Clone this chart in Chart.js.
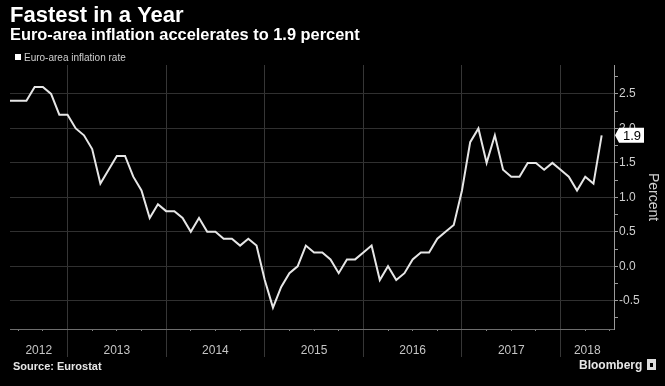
<!DOCTYPE html>
<html>
<head>
<meta charset="utf-8">
<script src="https://cdn.jsdelivr.net/npm/chart.js@4.4.1/dist/chart.umd.min.js"></script>
<style>
  html, body { margin: 0; padding: 0; background: #000; }
</style>
</head>
<body>
<canvas id="chart" width="665" height="386"></canvas>
<script>
// euro-area HICP, y/y %, monthly from May 2012 to May 2018 (flash)
const seriesName = "Euro-area inflation rate";
const inflation = [
  2.4, 2.4, 2.4, 2.6, 2.6, 2.5, 2.2, 2.2,                          // 2012 May-Dec
  2.0, 1.9, 1.7, 1.2, 1.4, 1.6, 1.6, 1.3, 1.1, 0.7, 0.9, 0.8,      // 2013
  0.8, 0.7, 0.5, 0.7, 0.5, 0.5, 0.4, 0.4, 0.3, 0.4, 0.3, -0.2,     // 2014
  -0.6, -0.3, -0.1, 0.0, 0.3, 0.2, 0.2, 0.1, -0.1, 0.1, 0.1, 0.2,  // 2015
  0.3, -0.2, 0.0, -0.2, -0.1, 0.1, 0.2, 0.2, 0.4, 0.5, 0.6, 1.1,   // 2016
  1.8, 2.0, 1.5, 1.9, 1.4, 1.3, 1.3, 1.5, 1.5, 1.4, 1.5, 1.4,      // 2017
  1.3, 1.1, 1.3, 1.2, 1.9                                          // 2018 Jan-May
];

// x axis is month index (0 = May 2012)
const years = ["2012", "2013", "2014", "2015", "2016", "2017", "2018"];
const yearLabelAt = [3.5, 13, 25, 37, 49, 61, 70.25];
const yearBreaks = [7, 19, 31, 43, 55, 67];
const quarterTicks = [1, 4, 10, 13, 16, 22, 25, 28, 34, 37, 40, 46, 49, 52, 58, 61, 64, 70, 73];
const xMax = 73.5;

const yLabels = [-0.5, 0, 0.5, 1, 1.5, 2, 2.5];
const yMinor = [-0.75, -0.25, 0.25, 0.75, 1.25, 1.75, 2.25, 2.75];
const yMin = -0.91, yMax = 2.92;

const FONT = '"Liberation Sans", Arial, sans-serif';
const isBreak = v => yearBreaks.includes(v);
const isMajorY = v => yLabels.some(l => Math.abs(l - v) < 1e-6);

const bgPlugin = {
  id: "bg",
  beforeDraw(chart) {
    const { ctx, width, height } = chart;
    ctx.save();
    ctx.fillStyle = "#000";
    ctx.fillRect(0, 0, width, height);
    ctx.restore();
  }
};

// headline, legend, source and logo text
const textPlugin = {
  id: "texts",
  afterDraw(chart) {
    const ctx = chart.ctx;
    ctx.save();
    ctx.textBaseline = "alphabetic";
    ctx.fillStyle = "#fff";
    ctx.font = "bold 22px " + FONT;
    ctx.fillText("Fastest in a Year", 10, 22);
    ctx.font = "bold 16.4px " + FONT;
    ctx.fillText("Euro-area inflation accelerates to 1.9 percent", 10, 40);

    ctx.fillStyle = "#fff";
    ctx.fillRect(15, 54, 6, 6);
    ctx.fillStyle = "#cfcfcf";
    ctx.font = "10px " + FONT;
    ctx.fillText(chart.data.datasets[0].label, 24, 61);

    ctx.fillStyle = "#e6e6e6";
    ctx.font = "bold 11px " + FONT;
    ctx.fillText("Source: Eurostat", 13, 370);
    ctx.font = "bold 12px " + FONT;
    ctx.fillText("Bloomberg", 579, 369);
    ctx.fillStyle = "#dcdcdc";
    ctx.fillRect(647, 359, 9, 11);
    ctx.fillStyle = "#000";
    ctx.fillRect(650, 363, 3, 4);
    ctx.restore();
  }
};

// white tag with the latest value on the right axis
const lastValuePlugin = {
  id: "lastValue",
  afterDraw(chart) {
    const meta = chart.getDatasetMeta(0);
    const pt = meta.data[meta.data.length - 1];
    const yScale = chart.scales.y;
    const val = inflation[inflation.length - 1];
    const x0 = yScale.left + 1, y = pt.y;
    const ctx = chart.ctx;
    ctx.save();
    ctx.fillStyle = "#fff";
    ctx.beginPath();
    ctx.moveTo(x0, y);
    ctx.lineTo(x0 + 4, y - 7.5);
    ctx.lineTo(x0 + 29, y - 7.5);
    ctx.lineTo(x0 + 29, y + 7.5);
    ctx.lineTo(x0 + 4, y + 7.5);
    ctx.closePath();
    ctx.fill();
    ctx.fillStyle = "#000";
    ctx.font = "13px " + FONT;
    ctx.textAlign = "center";
    ctx.textBaseline = "middle";
    ctx.fillText(val.toFixed(1), x0 + 17, y + 1);
    ctx.restore();
  }
};

new Chart(document.getElementById("chart"), {
  type: "line",
  data: {
    datasets: [{
      label: seriesName,
      data: inflation.map((v, i) => ({ x: i, y: v })),
      borderColor: "#e6e6e6",
      borderWidth: 2,
      pointRadius: 0,
      tension: 0,
      fill: false
    }]
  },
  options: {
    responsive: false,
    animation: false,
    devicePixelRatio: 1,
    layout: { padding: { top: 65, left: 10, right: 0, bottom: 0 } },
    plugins: {
      legend: { display: false },
      title: { display: false },
      tooltip: { enabled: false }
    },
    scales: {
      xq: {
        type: "linear",
        position: "bottom",
        weight: 0,
        min: 0,
        max: xMax,
        afterBuildTicks: s => { s.ticks = quarterTicks.map(v => ({ value: v })); },
        afterFit: s => { s.height = 0; },
        grid: { drawOnChartArea: false, tickLength: 2, tickColor: "#8a8a8a", color: "#8a8a8a" },
        border: { display: false },
        ticks: { display: false }
      },
      x: {
        type: "linear",
        position: "bottom",
        weight: 1,
        min: 0,
        max: xMax,
        afterBuildTicks: s => {
          s.ticks = yearBreaks.concat(yearLabelAt).map(v => ({ value: v }));
        },
        afterFit: s => { s.height = 57; },
        grid: {
          color: c => (c.tick && isBreak(c.tick.value)) ? "#363636" : "rgba(0,0,0,0)",
          tickColor: c => (c.tick && isBreak(c.tick.value)) ? "#363636" : "rgba(0,0,0,0)",
          tickLength: 28,
          lineWidth: 1
        },
        border: { color: "#6e6e6e", width: 1 },
        ticks: {
          autoSkip: false,
          maxRotation: 0,
          padding: -14,
          color: "#c4c4c4",
          font: { family: FONT, size: 12 },
          callback: v => {
            const i = yearLabelAt.indexOf(v);
            return i >= 0 ? years[i] : "";
          }
        }
      },
      y: {
        type: "linear",
        position: "right",
        min: yMin,
        max: yMax,
        afterBuildTicks: s => {
          s.ticks = yLabels.concat(yMinor).sort((a, b) => a - b).map(v => ({ value: v }));
        },
        afterFit: s => { s.width = 51; },
        grid: {
          color: c => (c.tick && isMajorY(c.tick.value)) ? "#303030" : "rgba(0,0,0,0)",
          tickColor: "#9a9a9a",
          tickLength: 4
        },
        border: { color: "#9a9a9a", width: 1 },
        ticks: {
          padding: 1,
          color: "#cfcfcf",
          font: { family: FONT, size: 12 },
          callback: v => isMajorY(v) ? v.toFixed(1) : ""
        },
        title: {
          display: true,
          text: "Percent",
          color: "#cfcfcf",
          font: { family: FONT, size: 14 },
          padding: 4
        }
      }
    }
  },
  plugins: [bgPlugin, lastValuePlugin, textPlugin]
});
</script>
</body>
</html>
